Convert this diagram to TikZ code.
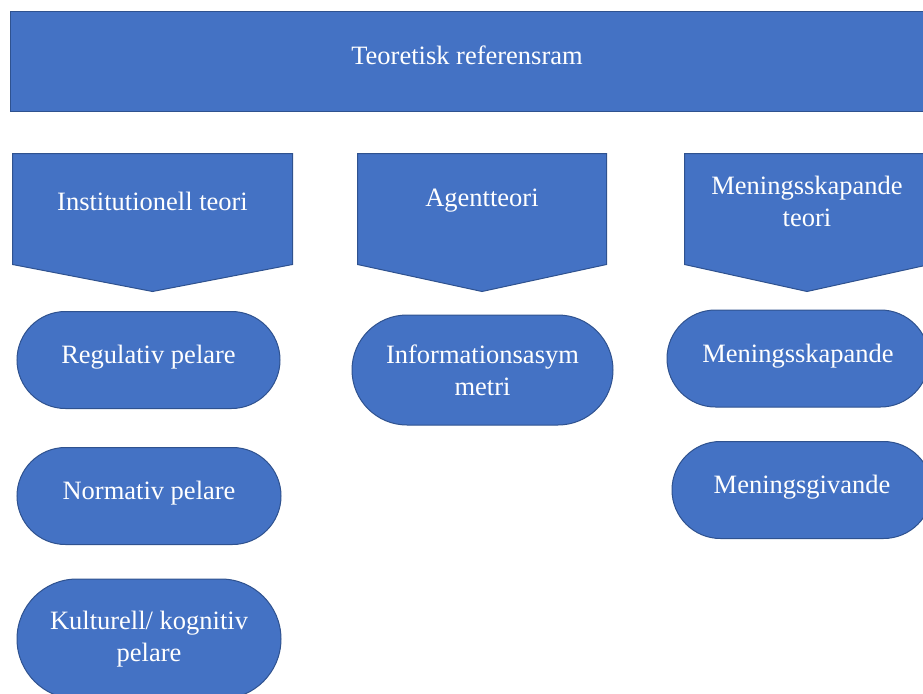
\documentclass[tikz,border=0pt]{standalone}
\usepackage{fontspec}
\setmainfont{Liberation Serif}
\usetikzlibrary{
    shapes.misc,
    calc,
    backgrounds,
    positioning
}
\definecolor{ramblue}{HTML}{4472C4}
\definecolor{ramedge}{HTML}{2F528F}
\tikzset{
    ram/.style={draw=ramedge, fill=ramblue, line width=1pt, text=white, inner sep=0pt,
        align=center, font=\fontsize{26.5}{32}\selectfont},
    bar/.style={ram, rectangle, minimum width=914pt, minimum height=99pt},
    teori/.style={ram, rectangle, draw=none, fill=none, minimum height=94pt},
    pelare/.style={ram, rounded rectangle, minimum height=97pt}
}
\newcommand{\lift}[2][2.5pt]{\raisebox{#1}[\height][\depth]{#2}}
\newcommand{\teoripil}[1]{\filldraw[ramedge, fill=ramblue, line width=1pt]
    (#1.north west) -- (#1.north east) -- ([yshift=-16pt]#1.south east)
    -- ([yshift=-43pt]#1.south) -- ([yshift=-16pt]#1.south west) -- cycle;}

\begin{document}
\begin{tikzpicture}[x=1pt, y=-1pt]
    \useasboundingbox (0, 0) rectangle (923, 693);
    \clip (0, 0) rectangle (923, 693);

    \node[bar] (ram) at (467, 61.5) {\lift[6pt]{Teoretisk referensram}};

    \node[teori, minimum width=279pt] (inst) at (152.5, 201) {Institutionell teori};
    \node[teori, minimum width=248pt] (agent) at (482, 201) {Agentteori};
    \node[teori, minimum width=244pt] (mening) at (807, 201) {Meningsskapande\\teori};
    \begin{scope}[on background layer]
        \teoripil{inst}
        \teoripil{agent}
        \teoripil{mening}
    \end{scope}

    \node[pelare, minimum width=263pt] (reg) at (148.5, 360) {\lift{Regulativ pelare}};
    \node[pelare, minimum width=264pt] (norm) at (149, 496) {\lift{Normativ pelare}};
    \node[pelare, minimum width=264pt, minimum height=120pt] (kult) at (149, 639)
        {Kulturell/ kognitiv\\pelare};

    \node[pelare, minimum width=261pt, minimum height=110pt] (info) at (482.5, 370)
        {Informationsasym\\metri};

    \node[pelare, minimum width=262pt] (msk) at (798, 358.5) {\lift{Meningsskapande}};
    \node[pelare, minimum width=260pt] (mgv) at (802, 490) {\lift{Meningsgivande}};
\end{tikzpicture}
\end{document}
